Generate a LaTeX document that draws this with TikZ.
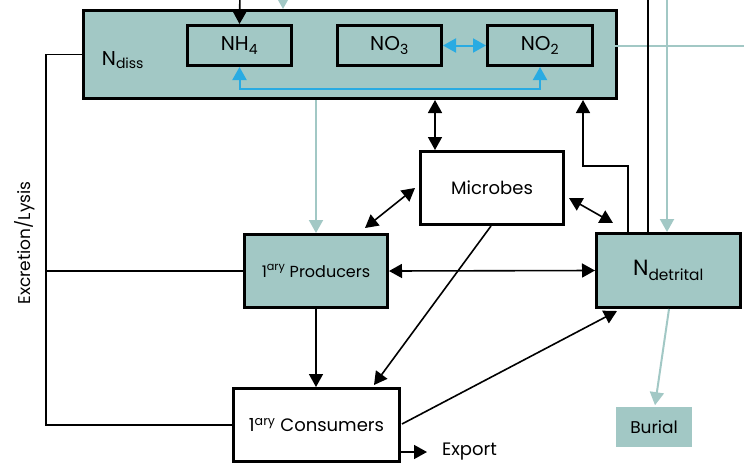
\documentclass[tikz,border=0pt]{standalone}
\usepackage{fontspec}
\setmainfont{Poppins}
\usetikzlibrary{arrows.meta,calc}
\definecolor{poolteal}{HTML}{A2C8C5}
\definecolor{cycleblue}{HTML}{29ABE2}
\tikzset{every path/.style={black,line width=1.6pt},
  pool/.style={draw,fill=poolteal,line width=3pt,inner sep=0pt},
  organism/.style={draw,fill=white,line width=3pt,inner sep=0pt},
  flowtip/.style={-{Triangle[width=14pt,length=13pt]}},
  bothtips/.style={{Triangle[width=14pt,length=13pt]}-{Triangle[width=14pt,length=13pt]}},
  tealflow/.style={poolteal,line width=2pt},
  blueflow/.style={cycleblue,line width=2pt}}

\begin{document}
\begin{tikzpicture}[x=1pt,y=-1pt]
  \useasboundingbox (0,0) rectangle (744,469);
  \node[pool,minimum width=533pt,minimum height=88pt] (ndiss) at (350,54.5) {};
  \node[font=\fontsize{20}{24}\selectfont] (ndisslbl) at (123,60) {N\textsubscript{diss}};
  \node[pool,minimum width=104pt,minimum height=40pt,font=\fontsize{20}{24}\selectfont] (nh4) at (239.5,45.5) {NH\textsubscript{4}};
  \node[pool,minimum width=104pt,minimum height=40pt,font=\fontsize{20}{24}\selectfont] (no3) at (389.5,45.5) {NO\textsubscript{3}};
  \node[pool,minimum width=105pt,minimum height=40pt,font=\fontsize{20}{24}\selectfont] (no2) at (540,45.5) {NO\textsubscript{2}};
  \node[organism,minimum width=143pt,minimum height=73pt,font=\fontsize{18}{22}\selectfont] (microbes) at (492,188) {Microbes};
  \node[pool,minimum width=143pt,minimum height=73pt,font=\fontsize{16}{20}\selectfont] (prod) at (316,271) {1\textsuperscript{ary} Producers};
  \node[pool,minimum width=144pt,minimum height=74pt,font=\fontsize{22}{26}\selectfont] (ndet) at (668.5,270.5) {N\textsubscript{detrital}};
  \node[organism,minimum width=166pt,minimum height=73pt,font=\fontsize{18}{22}\selectfont] (cons) at (316.5,425) {1\textsuperscript{ary} Consumers};
  \node[fill=poolteal,minimum width=76pt,minimum height=40pt,inner sep=0pt,font=\fontsize{17}{20}\selectfont] (burial) at (654,427) {Burial};
  \node[anchor=west,font=\fontsize{18}{22}\selectfont] (export) at (438,452) {Export};
  \node[rotate=90,font=\fontsize{17}{20}\selectfont] (exlbl) at (25,243) {Excretion/Lysis};

  \coordinate (blkin) at (240,-10);
  \coordinate (tealin) at (283,-12);
  \coordinate (outright) at (750,0);
  \coordinate (deadin) at (648,-10);
  \coordinate (tealdown) at (667,-10);
  \coordinate (exline) at (46,0);
  \coordinate (mx) at ([xshift=85pt]ndiss.south);
  \coordinate (dtup) at ([xshift=-40.5pt]ndet.north);
  \coordinate (dtin) at ([xshift=233pt]ndiss.south);

  \draw[flowtip] (blkin) -- (nh4.north);
  \draw[tealflow,flowtip] (tealin) -- (tealin |- ndiss.north);
  \draw[tealflow] (no2.east) -- (no2.east -| outright);
  \draw (deadin) -- (deadin |- ndet.north);
  \draw[tealflow,flowtip] (tealdown) -- (tealdown |- ndet.north);
  \draw[blueflow,bothtips] (nh4.south) -- ++(0,22) -| (no2.south);
  \draw[blueflow,bothtips] (no3.east) -- (no2.west);
  \draw[flowtip] (dtup) -- ++(0,-66) -| (dtin);
  \draw[bothtips] (mx) -- (mx |- microbes.north);
  \draw[bothtips] ($(microbes.east)+(4,10)$) -- ($(ndet.north west)+(18,-9)$);
  \draw[bothtips] ($(microbes.west)+(-4,0)$) -- ($(prod.north)+(49,-5)$);
  \draw[tealflow,flowtip] (ndiss.south -| prod.north) -- (prod.north);
  \draw[bothtips] (prod.east) -- (ndet.west);
  \draw[flowtip] (prod.south) -- (prod.south |- cons.north);
  \draw[flowtip] ($(microbes.south)+(-1,0)$) -- ($(cons.north east)+(-27,-2)$);
  \draw[flowtip] ($(cons.east)+(1,-1)$) -- ($(ndet.south west)+(22,2)$);
  \draw[flowtip] (cons.east |- export.west) -- ($(export.west)+(-11,0)$);
  \draw[tealflow,flowtip] ($(ndet.south)+(0.5,0)$) -- ($(burial.north)+(1,-1)$);
  \draw (ndiss.west) -- (ndiss.west -| exline) |- (cons.west);
  \draw (prod.west) -- (prod.west -| exline);
\end{tikzpicture}
\end{document}
